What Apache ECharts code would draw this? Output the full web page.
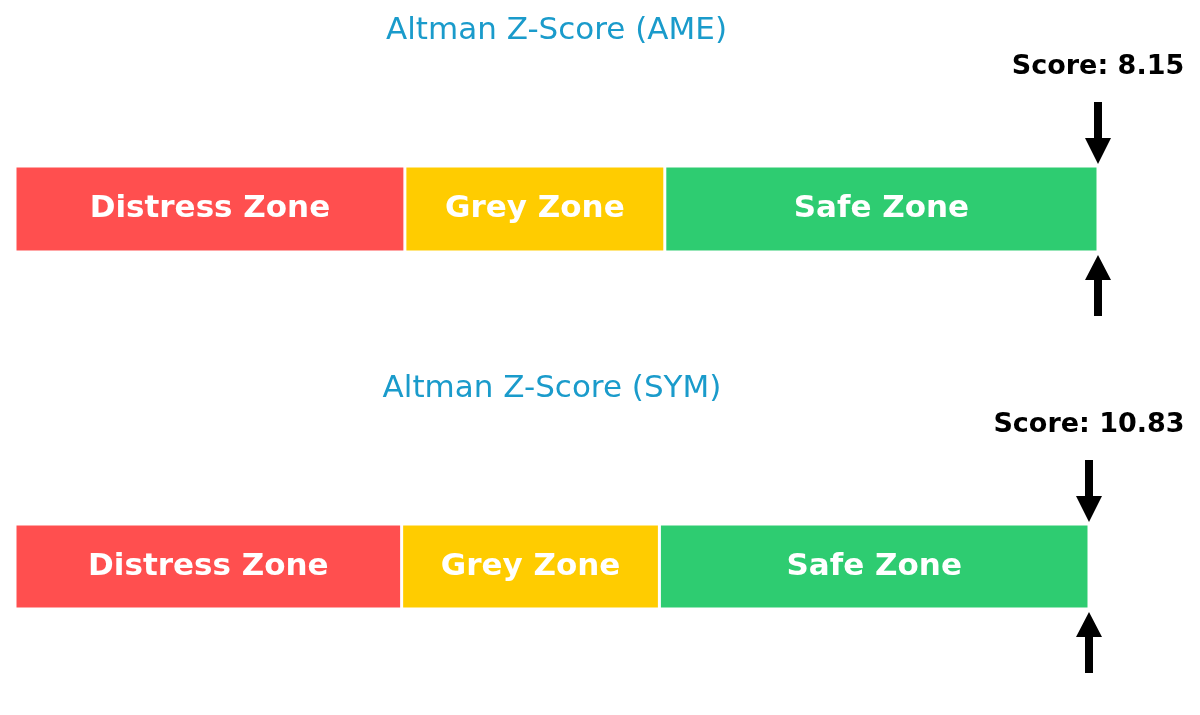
<!DOCTYPE html>
<html>
<head>
<meta charset="utf-8">
<script src="https://cdn.jsdelivr.net/npm/echarts@6/dist/echarts.min.js"></script>
<style>html,body{margin:0;padding:0;background:#fff;}#main{width:1200px;height:715px;}</style>
</head>
<body>
<div id="main"></div>
<script>
const companies = ['AME', 'SYM'];
const scores = [8.15, 10.83];
const zoneNames = ['Distress Zone', 'Grey Zone', 'Safe Zone'];
const zoneBounds = [0, 1.8, 3.0, 5.0];
const zoneColors = ['#ff4f4f', '#ffcc00', '#2ecc71'];

const FONT = '"DejaVu Sans", Verdana, sans-serif';
const grids = [
  { left: 15, width: 1083, top: 166, height: 86 },
  { left: 15, width: 1074, top: 524, height: 85 }
];
const axisMax = zoneBounds[zoneBounds.length - 1];

const option = {
  animation: false,
  backgroundColor: '#ffffff',
  title: companies.map((c, i) => ({
    text: 'Altman Z-Score (' + c + ')',
    left: grids[i].left + grids[i].width / 2 - 5,
    textAlign: 'center',
    top: grids[i].top - 156,
    textStyle: { color: '#1a9bcb', fontFamily: FONT, fontWeight: 'normal', fontSize: 31 }
  })),
  grid: grids,
  xAxis: grids.map((g, i) => ({
    type: 'value', gridIndex: i, min: 0, max: axisMax, show: false
  })),
  yAxis: grids.map((g, i) => ({
    type: 'category', gridIndex: i, data: [companies[i]], show: false
  })),
  series: []
};

companies.forEach((c, gi) => {
  zoneNames.forEach((z, zi) => {
    option.series.push({
      type: 'bar',
      name: z,
      xAxisIndex: gi,
      yAxisIndex: gi,
      stack: 'zones' + gi,
      barWidth: '100%',
      data: [+(zoneBounds[zi + 1] - zoneBounds[zi]).toFixed(2)],
      itemStyle: { color: zoneColors[zi], borderColor: '#ffffff', borderWidth: 1.5 },
      label: {
        show: true, position: 'inside', formatter: z,
        color: '#ffffff', fontFamily: FONT, fontWeight: 'bold', fontSize: 31
      }
    });
  });
  option.series.push({
    type: 'custom',
    xAxisIndex: gi,
    yAxisIndex: gi,
    clip: false,
    data: [[Math.min(scores[gi], axisMax), 0, scores[gi]]],
    renderItem: function (params, api) {
      const p = api.coord([api.value(0), 0]);
      const h = api.size([0, 1])[1];
      const x = p[0];
      const top = p[1] - h / 2, bot = p[1] + h / 2;
      const sw = 4, hw = 13;
      const down = [[x - sw, top - 64], [x + sw, top - 64], [x + sw, top - 28], [x + hw, top - 28], [x, top - 2], [x - hw, top - 28], [x - sw, top - 28]];
      const up = [[x - sw, bot + 64], [x + sw, bot + 64], [x + sw, bot + 28], [x + hw, bot + 28], [x, bot + 3], [x - hw, bot + 28], [x - sw, bot + 28]];
      return {
        type: 'group',
        children: [
          { type: 'polygon', shape: { points: down }, style: { fill: '#000' } },
          { type: 'polygon', shape: { points: up }, style: { fill: '#000' } },
          { type: 'text', style: {
              text: 'Score: ' + api.value(2).toFixed(2), x: x, y: top - 99,
              align: 'center', verticalAlign: 'middle',
              font: 'bold 27px ' + FONT, fill: '#000' } }
        ]
      };
    }
  });
});

const chart = echarts.init(document.getElementById('main'));
chart.setOption(option);
</script>
</body>
</html>
